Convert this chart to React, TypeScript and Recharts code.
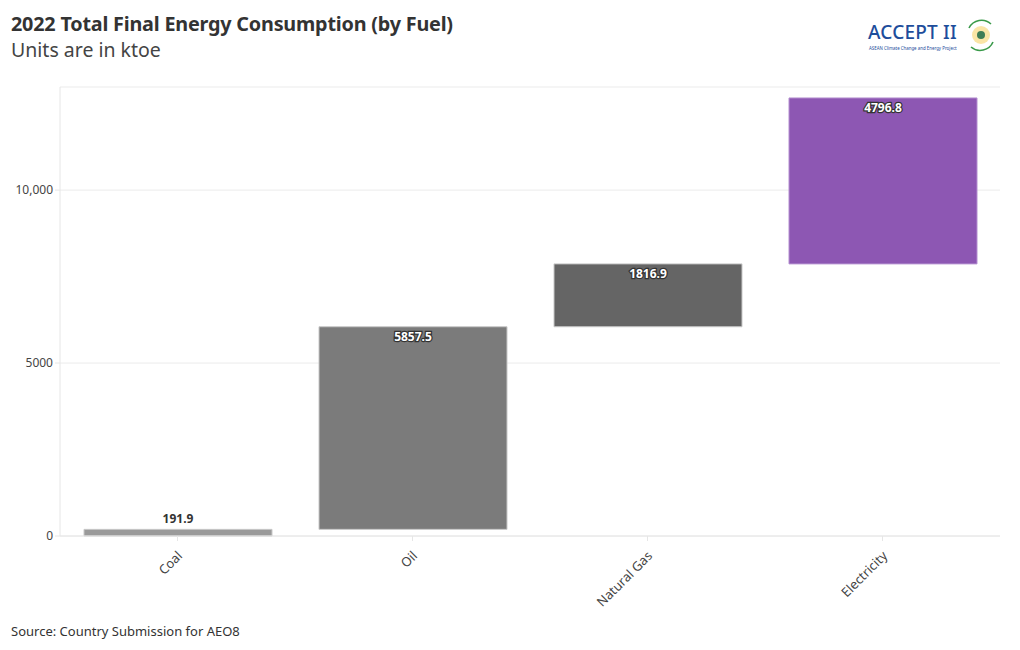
import { BarChart, Bar, XAxis, YAxis, CartesianGrid, Cell, LabelList } from "recharts";

const fuels = ["Coal", "Oil", "Natural Gas", "Electricity"];
const consumption = [191.9, 5857.5, 1816.9, 4796.8];
const barColors = ["#9a9a9a", "#7b7b7b", "#656565", "#8d57b3"];
const yTicks = [0, 5000, 10000];

// waterfall: each bar starts where the previous one ended
let running = 0;
const chartData = fuels.map((fuel, i) => {
    const row = { fuel, base: running, value: consumption[i] };
    running += consumption[i];
    return row;
});

const font = "'Source Sans Pro', 'Noto Sans', sans-serif";

function BarValueLabel(props: any) {
    const { x, y, width, value, index } = props;
    const cx = x + width / 2;
    if (index === 0) {
        return (
            <text x={cx} y={y - 6} textAnchor="middle" fontSize={12} fontWeight={700} fill="#333" fontFamily={font}>
                {value.toFixed(1)}
            </text>
        );
    }
    return (
        <text x={cx} y={y + 14} textAnchor="middle" fontSize={12} fontWeight={700} fill="#fff"
            stroke="#333" strokeWidth={2.5} paintOrder="stroke" fontFamily={font}>
            {value.toFixed(1)}
        </text>
    );
}

function XTick(props: any) {
    const { x, y, payload } = props;
    return (
        <g transform={`translate(${x},${y + 8})`}>
            <text transform="rotate(-45)" textAnchor="end" dy={8} fontSize={13} fill="#444" fontFamily={font}>
                {payload.value}
            </text>
        </g>
    );
}

function Logo() {
    return (
        <svg width={140} height={44} style={{ position: "absolute", left: 866, top: 14 }}>
            <text x={2} y={25} fontSize={19} fontWeight={500} fill="#1d4d9b" fontFamily="'Noto Sans', sans-serif" letterSpacing={0.2}>
                ACCEPT II
            </text>
            <text x={3} y={36} fontSize={4.4} fill="#1d4d9b" fontFamily="'Noto Sans', sans-serif">
                ASEAN Climate Change and Energy Project
            </text>
            <circle cx={115} cy={21} r={9} fill="#f6d36b" opacity={0.6} />
            <circle cx={115} cy={21} r={4} fill="#3f7d56" />
            <path d="M103,14 A14,14 0 0,1 125,10" stroke="#3a9a4a" strokeWidth={1.6} fill="none" />
            <path d="M127,28 A14,14 0 0,1 105,33" stroke="#3a9a4a" strokeWidth={1.6} fill="none" />
        </svg>
    );
}

export default function App() {
    return (
        <div style={{ position: "absolute", left: 0, top: 0, width: 1020, height: 650, background: "#fff", fontFamily: font }}>
            <div style={{ position: "absolute", left: 11, top: 10, fontSize: 19.8, fontWeight: 700, color: "#333", letterSpacing: -0.2 }}>
                2022 Total Final Energy Consumption (by Fuel)
            </div>
            <div style={{ position: "absolute", left: 11, top: 36, fontSize: 19.5, color: "#444" }}>
                Units are in ktoe
            </div>
            <Logo />
            <div style={{ position: "absolute", left: 0, top: 0 }}>
                <BarChart width={1020} height={650} data={chartData}
                    margin={{ top: 87, right: 20, bottom: 0, left: 0 }}
                    barSize={188}>
                    <CartesianGrid vertical={false} stroke="#ebebeb" />
                    <XAxis dataKey="fuel" height={114} tick={<XTick />} stroke="#e6e6e6" tickSize={5} interval={0} />
                    <YAxis width={60} domain={[0, 12980]} ticks={yTicks} stroke="#e6e6e6" tickSize={5}
                        tick={{ fontSize: 12, fill: "#444", fontFamily: font }}
                        tickFormatter={(v: number) => (v >= 10000 ? v.toLocaleString("en-US") : String(v))} />
                    <Bar dataKey="base" stackId="w" fill="transparent" isAnimationActive={false} />
                    <Bar dataKey="value" stackId="w" isAnimationActive={false} strokeWidth={1}>
                        {chartData.map((d, i) => (
                            <Cell key={d.fuel} fill={barColors[i]} stroke={i === 3 ? "#b48fd0" : "#c8c8c8"} />
                        ))}
                        <LabelList dataKey="value" content={<BarValueLabel />} />
                    </Bar>
                </BarChart>
            </div>
            <div style={{ position: "absolute", left: 11, top: 622, fontSize: 13, color: "#333" }}>
                Source: Country Submission for AEO8
            </div>
        </div>
    );
}
